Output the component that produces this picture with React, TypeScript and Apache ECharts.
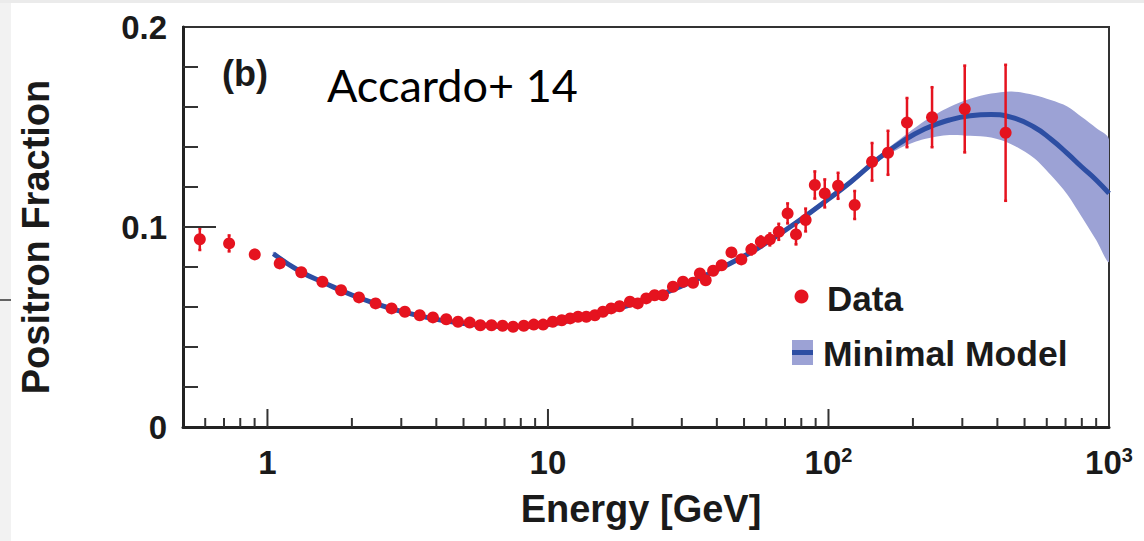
import React, { useEffect, useRef } from "react";
import * as echarts from "echarts";

// ---------- data ----------
const dataE = [0.574, 0.73, 0.901, 1.106, 1.32, 1.57, 1.83, 2.12, 2.43, 2.77, 3.09, 3.49, 3.89, 4.34, 4.78, 5.26, 5.74, 6.29, 6.89, 7.51, 8.2, 8.9, 9.61, 10.4, 11.2, 12.0, 12.8, 13.7, 14.7, 15.7, 16.8, 18.0, 19.6, 20.9, 22.4, 24.0, 25.7, 27.9, 30.3, 32.9, 34.8, 36.5, 38.8, 41.6, 45.1, 48.9, 53.1, 57.4, 61.8, 66.5, 71.5, 76.6, 82.9, 89.4, 97.0, 108.2, 124, 143, 163, 190.5, 234, 306, 428];
const dataF = [0.0939, 0.0918, 0.0863, 0.0818, 0.0774, 0.0726, 0.0684, 0.0648, 0.0618, 0.0593, 0.0576, 0.0559, 0.0548, 0.0539, 0.0526, 0.0522, 0.0509, 0.0509, 0.0506, 0.0501, 0.0506, 0.0512, 0.0512, 0.0526, 0.0534, 0.0543, 0.0551, 0.0551, 0.0559, 0.0576, 0.0593, 0.0604, 0.0626, 0.0618, 0.0643, 0.0659, 0.0659, 0.0701, 0.0726, 0.0721, 0.0768, 0.0734, 0.0781, 0.0809, 0.0873, 0.0838, 0.0888, 0.0926, 0.0938, 0.0976, 0.1068, 0.0963, 0.1035, 0.121, 0.1168, 0.1206, 0.111, 0.1326, 0.1371, 0.1522, 0.1549, 0.159, 0.1471];
const dataErr = [0.0054, 0.004, 0.0022, 0.0015, 0.0012, 0.0012, 0.0011, 0.001, 0.001, 0.001, 0.001, 0.001, 0.001, 0.001, 0.001, 0.001, 0.001, 0.001, 0.001, 0.001, 0.001, 0.001, 0.001, 0.001, 0.001, 0.001, 0.001, 0.001, 0.001, 0.001, 0.001, 0.0011, 0.0011, 0.0012, 0.0012, 0.0013, 0.0013, 0.0014, 0.0015, 0.0015, 0.0016, 0.0017, 0.0018, 0.002, 0.002, 0.0022, 0.0025, 0.0027, 0.003, 0.004, 0.005, 0.005, 0.0057, 0.0068, 0.007, 0.0065, 0.007, 0.0094, 0.011, 0.0123, 0.015, 0.0217, 0.034];

const modelE = [1.05, 1.3, 1.6, 2, 2.5, 3, 4, 5, 6, 7, 8, 10, 12, 15, 20, 25, 30, 40, 50, 60, 80, 100, 120, 150, 180, 220, 270, 320, 380, 450, 540, 620, 710, 800, 900, 1000];
const modelF = [0.0866, 0.078, 0.072, 0.066, 0.0612, 0.0578, 0.0538, 0.0518, 0.0508, 0.0503, 0.0503, 0.0513, 0.0532, 0.0562, 0.0615, 0.066, 0.0705, 0.0785, 0.0855, 0.092, 0.104, 0.114, 0.1225, 0.134, 0.142, 0.149, 0.1535, 0.1556, 0.1562, 0.1548, 0.15, 0.144, 0.1368, 0.13, 0.1235, 0.1168];
const bandHigh = [0.0876, 0.079, 0.073, 0.067, 0.0622, 0.0588, 0.0548, 0.0528, 0.0518, 0.0513, 0.0513, 0.0523, 0.0542, 0.0572, 0.0625, 0.067, 0.0715, 0.0795, 0.0865, 0.093, 0.1052, 0.1152, 0.1238, 0.1354, 0.144, 0.153, 0.16, 0.1641, 0.1667, 0.1678, 0.166, 0.1635, 0.1603, 0.155, 0.1495, 0.1438];
const bandLow = [0.0856, 0.077, 0.071, 0.065, 0.0602, 0.0568, 0.0528, 0.0508, 0.0498, 0.0493, 0.0493, 0.0503, 0.0522, 0.0552, 0.0605, 0.065, 0.0695, 0.0775, 0.0845, 0.091, 0.1028, 0.1128, 0.1212, 0.1326, 0.1395, 0.144, 0.146, 0.1456, 0.1447, 0.1413, 0.1345, 0.126, 0.1163, 0.105, 0.0935, 0.0828];

const xTickValues = [1, 10, 100, 1000];
const xTickLabels = ["{b|1}", "{b|10}", "{b|10}{sup|2}", "{b|10}{sup|3}"];
const xMinorTicks = [0.6, 0.7, 0.8, 0.9, 2, 3, 4, 5, 6, 7, 8, 9, 20, 30, 40, 50, 60, 70, 80, 90, 200, 300, 400, 500, 600, 700, 800, 900];
const yTickValues = [0, 0.1, 0.2];
const yTickLabels = ["0", "0.1", "0.2"];
const yMinorTicks = [0.02, 0.04, 0.06, 0.08, 0.12, 0.14, 0.16, 0.18];

// ---------- styles ----------
const FONT = "'Liberation Sans', Arial, Helvetica, sans-serif";
const RED = "#e5131f";
const BLUE = "#2d4ea3";
const BAND = "#9ca2d5";
const INK = "#1a1a1a";

export default function App() {
  const ref = useRef<HTMLDivElement>(null);

  useEffect(() => {
    if (!ref.current) return;
    const chart = echarts.init(ref.current, null, { renderer: "svg" });

    const points = dataE.map((e, i) => [e, dataF[i]]);
    const errs = dataE.map((e, i) => [e, dataF[i], dataErr[i]]);
    const model = modelE.map((e, i) => [e, modelF[i]]);
    const ticks: number[][] = [];
    xTickValues.slice(0, 3).forEach((v) => ticks.push([v, 0, 18, 0]));
    xMinorTicks.forEach((v) => ticks.push([v, 0, 9, 0]));
    ticks.push([0.5, 0.1, 33, 1]);
    yMinorTicks.forEach((v) => ticks.push([0.5, v, 15, 1]));

    const option: any = {
      animation: false,
      backgroundColor: "#ffffff",
      grid: {
        left: 183,
        top: 27,
        right: 35,
        bottom: 114,
        show: true,
        borderColor: "#333",
        borderWidth: 2,
        backgroundColor: "transparent",
      },
      xAxis: {
        type: "log",
        logBase: 10,
        min: 0.5,
        max: 1000,
        splitNumber: 4,
        name: "Energy [GeV]",
        nameLocation: "middle",
        nameGap: 63,
        nameTextStyle: { fontFamily: FONT, fontWeight: "bold", fontSize: 38, color: INK, padding: [0, 10, 0, 0] },
        axisLine: { show: true, lineStyle: { color: "#222", width: 3 } },
        axisTick: { show: false },
        minorTick: { show: false },
        splitLine: { show: false },
        axisLabel: {
          margin: 18,
          formatter: (v: number) => {
            const i = xTickValues.findIndex((t) => Math.abs(Math.log10(v) - Math.log10(t)) < 1e-6);
            return i >= 0 ? xTickLabels[i] : "";
          },
          rich: {
            b: { fontFamily: FONT, fontWeight: "bold", fontSize: 33, color: INK, lineHeight: 34, verticalAlign: "bottom" },
            sup: { fontFamily: FONT, fontWeight: "bold", fontSize: 20, color: INK, lineHeight: 34, verticalAlign: "top" },
          },
        },
      },
      yAxis: {
        type: "value",
        min: 0,
        max: 0.2,
        interval: 0.02,
        name: "Positron Fraction",
        nameLocation: "middle",
        nameRotate: 90,
        nameGap: 128,
        nameTextStyle: { fontFamily: FONT, fontWeight: "bold", fontSize: 38, color: INK, padding: [0, 20, 0, 0] },
        axisLine: { show: true, lineStyle: { color: "#222", width: 3 } },
        axisTick: { show: false },
        splitLine: { show: false },
        axisLabel: {
          margin: 16,
          fontFamily: FONT,
          fontWeight: "bold",
          fontSize: 33,
          color: INK,
          formatter: (v: number) => {
            const i = yTickValues.findIndex((t) => Math.abs(v - t) < 1e-9);
            return i >= 0 ? yTickLabels[i] : "";
          },
        },
      },
      series: [
        {
          type: "custom",
          name: "Minimal Model band",
          z: 1,
          silent: true,
          clip: true,
          data: [[modelE[0], modelF[0]]],
          encode: { x: 0, y: 1 },
          renderItem: (_p: any, api: any) => {
            const pts: number[][] = [];
            for (let i = 0; i < modelE.length; i++) pts.push(api.coord([modelE[i], bandHigh[i]]));
            for (let i = modelE.length - 1; i >= 0; i--) pts.push(api.coord([modelE[i], bandLow[i]]));
            return { type: "polygon", shape: { points: pts, smooth: 0.3 }, style: { fill: BAND } };
          },
        },
        {
          type: "line",
          name: "Minimal Model",
          z: 2,
          data: model,
          smooth: true,
          showSymbol: false,
          lineStyle: { color: BLUE, width: 5 },
          itemStyle: { color: BLUE },
        },
        {
          type: "custom",
          name: "Data errors",
          z: 3,
          silent: true,
          data: errs,
          encode: { x: 0, y: 1 },
          renderItem: (_p: any, api: any) => {
            const x = api.value(0);
            const y = api.value(1);
            const e = api.value(2);
            const a = api.coord([x, y - e]);
            const b = api.coord([x, y + e]);
            return {
              type: "group",
              children: [
                { type: "line", shape: { x1: a[0], y1: a[1], x2: b[0], y2: b[1] }, style: { stroke: RED, lineWidth: 2.5 } },
                { type: "line", shape: { x1: a[0] - 1.5, y1: a[1], x2: a[0] + 1.5, y2: a[1] }, style: { stroke: RED, lineWidth: 2.5 } },
                { type: "line", shape: { x1: b[0] - 1.5, y1: b[1], x2: b[0] + 1.5, y2: b[1] }, style: { stroke: RED, lineWidth: 2.5 } },
              ],
            };
          },
        },
        {
          type: "scatter",
          name: "Data",
          z: 4,
          data: points,
          symbol: "circle",
          symbolSize: 12,
          itemStyle: { color: RED, opacity: 1 },
        },
        {
          type: "custom",
          name: "axis ticks",
          z: 5,
          silent: true,
          clip: false,
          data: ticks,
          encode: { x: 0, y: 1 },
          renderItem: (_p: any, api: any) => {
            const p = api.coord([api.value(0), api.value(1)]);
            const len = api.value(2);
            const dir = api.value(3);
            const shape = dir === 0
              ? { x1: p[0], y1: p[1], x2: p[0], y2: p[1] - len }
              : { x1: p[0], y1: p[1], x2: p[0] + len, y2: p[1] };
            return { type: "line", shape, style: { stroke: "#333", lineWidth: 2 } };
          },
        },
      ],
      graphic: [
        { type: "rect", shape: { x: 0, y: 0, width: 1144, height: 3 }, style: { fill: "#ebebeb" }, silent: true },
        { type: "rect", shape: { x: 0, y: 3, width: 11, height: 538 }, style: { fill: "#f2f2f2" }, silent: true },
        { type: "line", shape: { x1: 0, y1: 300, x2: 11, y2: 300 }, style: { stroke: "#333", lineWidth: 1.5 }, silent: true },
        {
          type: "text", x: 222, y: 73,
          style: { text: "(b)", fontFamily: FONT, fontWeight: "bold", fontSize: 36, fill: INK, align: "left", verticalAlign: "middle" },
        },
        {
          type: "text", x: 327, y: 85,
          style: { text: "Accardo+ 14", fontFamily: "Lato, 'Open Sans', sans-serif", fontSize: 45, fill: "#000", align: "left", verticalAlign: "middle" },
        },
        { type: "circle", shape: { cx: 801.5, cy: 296.5, r: 7 }, style: { fill: RED } },
        {
          type: "text", x: 827, y: 298,
          style: { text: "Data", fontFamily: FONT, fontWeight: "bold", fontSize: 35, fill: INK, align: "left", verticalAlign: "middle" },
        },
        { type: "rect", shape: { x: 792, y: 340, width: 21, height: 25 }, style: { fill: BAND } },
        { type: "line", shape: { x1: 792, y1: 352.5, x2: 813, y2: 352.5 }, style: { stroke: BLUE, lineWidth: 5 } },
        {
          type: "text", x: 823, y: 354,
          style: { text: "Minimal Model", fontFamily: FONT, fontWeight: "bold", fontSize: 35.5, fill: INK, align: "left", verticalAlign: "middle" },
        },
      ],
    };

    chart.setOption(option);
    return () => chart.dispose();
  }, []);

  return (
    <div
      ref={ref}
      style={{ position: "fixed", left: 0, top: 0, width: 1144, height: 541, background: "#fff" }}
    />
  );
}
